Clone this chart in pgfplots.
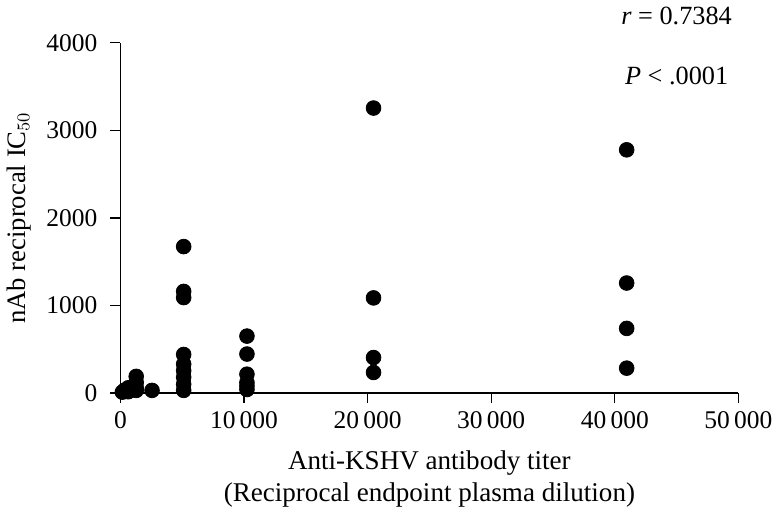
\documentclass[border=0pt]{standalone}
\usepackage{fontspec}
\setmainfont{Liberation Serif}
\usepackage{pgfplots}
\pgfplotsset{compat=1.18}

\begin{document}
\begin{tikzpicture}
    \begin{axis}[
        scale only axis,
        width=310.5pt,
        height=176pt,
        xmin=0, xmax=50000,
        ymin=0, ymax=4000,
        axis x line*=bottom,
        axis y line*=left,
        axis line style={black, line width=0.7pt},
        xtick={0,10000,20000,30000,40000,50000},
        ytick={0,1000,2000,3000,4000},
        tick align=outside,
        major tick length=5pt,
        tick style={black, line width=0.7pt},
        /pgf/number format/assume math mode=true,
        /pgf/number format/1000 sep={\,},
        /pgf/number format/min exponent for 1000 sep=4,
        scaled ticks=false,
        ticklabel style={font=\fontsize{12.8}{15}\selectfont},
        yticklabel style={xshift=-3pt},
        xticklabel style={yshift=-1pt},
        xlabel={Anti-KSHV antibody titer\\(Reciprocal endpoint plasma dilution)},
        xlabel style={align=center, font=\fontsize{13.6}{15.8}\selectfont, yshift=-4pt},
        ylabel={nAb reciprocal IC$_{50}$},
        ylabel style={font=\fontsize{13.4}{15}\selectfont, yshift=1pt},
        clip=false,
    ]
        % anti-KSHV titer vs reciprocal IC50
        \addplot[only marks, mark=*, mark size=3.7pt, black] coordinates {
            (160, 10)
            (320, 30)
            (640, 60) (640, 15)
            (1280, 190) (1280, 120) (1280, 60) (1280, 30)
            (2560, 30)
            (5120, 1672) (5120, 1160) (5120, 1090) (5120, 440) (5120, 330)
            (5120, 255) (5120, 180) (5120, 100) (5120, 30)
            (10240, 650) (10240, 445) (10240, 215) (10240, 120) (10240, 80) (10240, 40)
            (20480, 3254) (20480, 1086) (20480, 405) (20480, 235)
            (40960, 2777) (40960, 1256) (40960, 738) (40960, 284)
        };

        \node[font=\fontsize{13.2}{16}\selectfont] at (axis cs:45000,4310) {\textit{r} = 0.7384};
        \node[font=\fontsize{13.2}{16}\selectfont] at (axis cs:45000,3620) {\textit{P} < .0001};
    \end{axis}
\end{tikzpicture}
\end{document}
